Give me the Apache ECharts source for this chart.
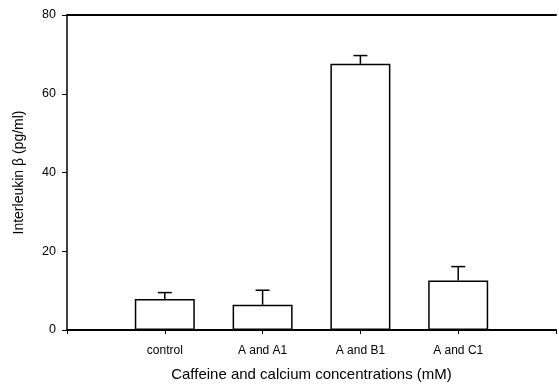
<!DOCTYPE html>
<html><head><meta charset="utf-8">
<script src="https://cdn.jsdelivr.net/npm/echarts@6/dist/echarts.min.js"></script>
<style>html,body{margin:0;padding:0;background:#fff}#c{width:559px;height:387px}</style>
</head><body><div id="c"></div>
<script>
var categories = ['', 'control', 'A and A1', 'A and B1', 'A and C1', ''];
var means = [null, 7.9, 6.4, 67.6, 12.6, null];
var errors = [null, 1.6, 3.7, 2.1, 3.5, null];
var yTicks = [0, 20, 40, 60, 80];

var chart = echarts.init(document.getElementById('c'));
var font = 'Liberation Sans, Arial, sans-serif';
var errData = [];
for (var i = 0; i < categories.length; i++) {
  if (means[i] != null) errData.push([i, means[i], means[i] + errors[i]]);
}
chart.setOption({
  animation: false,
  grid: { left: 67, top: 15, width: 495, bottom: 57, containLabel: false },
  xAxis: [{
    type: 'category', data: categories, boundaryGap: false,
    axisLine: { lineStyle: { color: '#000', width: 2 } },
    axisTick: { length: 4, lineStyle: { color: '#000' } },
    axisLabel: { color: '#000', fontFamily: font, fontSize: 12, margin: 15 },
    name: 'Caffeine and calcium concentrations (mM)', nameLocation: 'middle', nameGap: 37,
    nameTextStyle: { color: '#000', fontFamily: font, fontSize: 15 }
  }, {
    type: 'category', data: categories, boundaryGap: false, position: 'top',
    axisLine: { lineStyle: { color: '#000', width: 2 } },
    axisTick: { show: false }, axisLabel: { show: false }
  }],
  yAxis: {
    type: 'value', min: yTicks[0], max: yTicks[yTicks.length - 1], interval: 20,
    axisLine: { show: true, lineStyle: { color: '#000', width: 1.5 } },
    axisTick: { show: true, length: 5, lineStyle: { color: '#000' } },
    splitLine: { show: false },
    axisLabel: { color: '#000', fontFamily: font, fontSize: 12.5, margin: 11 },
    name: 'Interleukin β (pg/ml)', nameLocation: 'middle', nameGap: 41,
    nameTextStyle: { color: '#000', fontFamily: font, fontSize: 14 }
  },
  series: [{
    type: 'bar', data: means, barWidth: 60,
    itemStyle: { color: '#fff', borderColor: '#000', borderWidth: 1.5 }
  }, {
    type: 'custom', data: errData, z: 5,
    renderItem: function (params, api) {
      var x = api.value(0);
      var lo = api.coord([x, api.value(1)]);
      var hi = api.coord([x, api.value(2)]);
      var cap = 7;
      var st = { stroke: '#000', lineWidth: 1.5 };
      return { type: 'group', children: [
        { type: 'line', shape: { x1: lo[0], y1: lo[1], x2: hi[0], y2: hi[1] }, style: st },
        { type: 'line', shape: { x1: hi[0] - cap, y1: hi[1], x2: hi[0] + cap, y2: hi[1] }, style: st }
      ]};
    }
  }]
});
</script></body></html>
